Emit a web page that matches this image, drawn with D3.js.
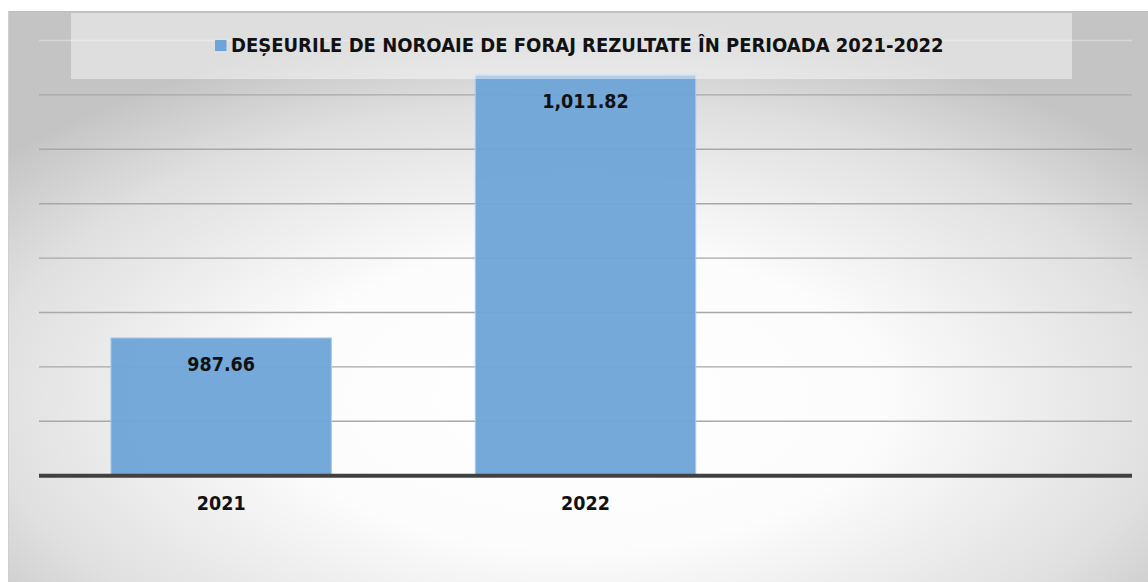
<!DOCTYPE html>
<html><head><meta charset="utf-8">
<script src="https://cdn.jsdelivr.net/npm/d3@7/dist/d3.min.js"></script>
<style>html,body{margin:0;padding:0;background:#fff;}svg{display:block;}</style>
</head><body>
<svg id="c" width="1148" height="582"></svg>
<script>
const categories = ["2021", "2022", ""];
const values = [987.66, 1011.82, null];
const valueLabels = ["987.66", "1,011.82", ""];
const seriesName = "DEȘEURILE DE NOROAIE DE FORAJ REZULTATE ÎN PERIOADA 2021-2022";
const yTicks = [975, 980, 985, 990, 995, 1000, 1005, 1010, 1015];

const W = 1148, H = 582;
const svg = d3.select("#c");
const FONT = "'DejaVu Sans Condensed', 'DejaVu Sans', sans-serif";
const barColor = "#6ea4d8";

const defs = svg.append("defs");
const rg = defs.append("radialGradient").attr("id", "bg").attr("cx", "0.5").attr("cy", "0.68").attr("r", "0.66");
rg.append("stop").attr("offset", "0").attr("stop-color", "#ffffff");
rg.append("stop").attr("offset", "0.4").attr("stop-color", "#fcfcfc");
rg.append("stop").attr("offset", "0.78").attr("stop-color", "#e0e0e0");
rg.append("stop").attr("offset", "1").attr("stop-color", "#c4c4c4");

svg.append("rect").attr("x", 8).attr("y", 11).attr("width", W - 8).attr("height", H - 11)
  .attr("fill", "url(#bg)");
svg.append("line").attr("x1", 8).attr("x2", W).attr("y1", 11.5).attr("y2", 11.5)
  .attr("stroke", "#bdbdbd").attr("stroke-width", 1);
svg.append("line").attr("x1", 8.5).attr("x2", 8.5).attr("y1", 11).attr("y2", H)
  .attr("stroke", "#cfcfcf").attr("stroke-width", 1);

const plot = {left: 39, right: 1132, top: 40.5, bottom: 475.7};

const x = d3.scaleBand().domain(categories.map((d, i) => i))
  .range([plot.left, plot.right]).paddingInner(0.395).paddingOuter(0.1975);
const y = d3.scaleLinear().domain([975, 1015]).range([plot.bottom, plot.top]);

// gridlines
const grid = svg.append("g");
grid.selectAll("line").data(yTicks.filter(t => t !== 975)).join("line")
  .attr("x1", plot.left).attr("x2", plot.right)
  .attr("y1", d => y(d)).attr("y2", d => y(d))
  .attr("stroke", d => d === 1015 ? "#d6d6d6" : "#a8a8a8")
  .attr("stroke-width", 1.4);

// bars
const data = categories.map((c, i) => ({i, c, v: values[i], l: valueLabels[i]})).filter(d => d.v != null);
svg.append("g").selectAll("rect").data(data).join("rect")
  .attr("x", d => x(d.i)).attr("width", x.bandwidth())
  .attr("y", d => y(d.v)).attr("height", d => y(975) - y(d.v))
  .attr("fill", barColor).attr("fill-opacity", 0.95)
  .attr("stroke", "#a9cbec").attr("stroke-width", 1);

// title/legend box
svg.append("rect").attr("x", 71).attr("y", 13).attr("width", 1001).attr("height", 66)
  .attr("fill", "#ffffff").attr("fill-opacity", 0.45);

// baseline
svg.append("line").attr("x1", plot.left).attr("x2", plot.right)
  .attr("y1", y(975)).attr("y2", y(975))
  .attr("stroke", "#404040").attr("stroke-width", 4);

// value labels
svg.append("g").selectAll("text").data(data).join("text")
  .attr("x", d => x(d.i) + x.bandwidth() / 2).attr("y", d => y(d.v) + 33)
  .attr("text-anchor", "middle").attr("font-family", FONT).attr("font-weight", "bold")
  .attr("font-size", 19.5).attr("fill", "#111").text(d => d.l);

// category axis labels
const xAxis = d3.axisBottom(x).tickFormat(i => categories[i]).tickSize(0).tickPadding(0);
const xg = svg.append("g").attr("transform", `translate(0,${plot.bottom})`).call(xAxis);
xg.select(".domain").remove();
xg.selectAll("text").attr("dy", 0).attr("y", 34).attr("font-family", FONT).attr("font-weight", "bold")
  .attr("font-size", 19.5).attr("fill", "#111");

// legend
const leg = svg.append("g");
leg.append("rect").attr("x", 215).attr("y", 40).attr("width", 11.5).attr("height", 11).attr("fill", barColor);
leg.append("text").attr("x", 231).attr("y", 52).attr("font-family", FONT).attr("font-weight", "bold")
  .attr("font-size", 20).attr("fill", "#111").text(seriesName);
</script>
</body></html>
